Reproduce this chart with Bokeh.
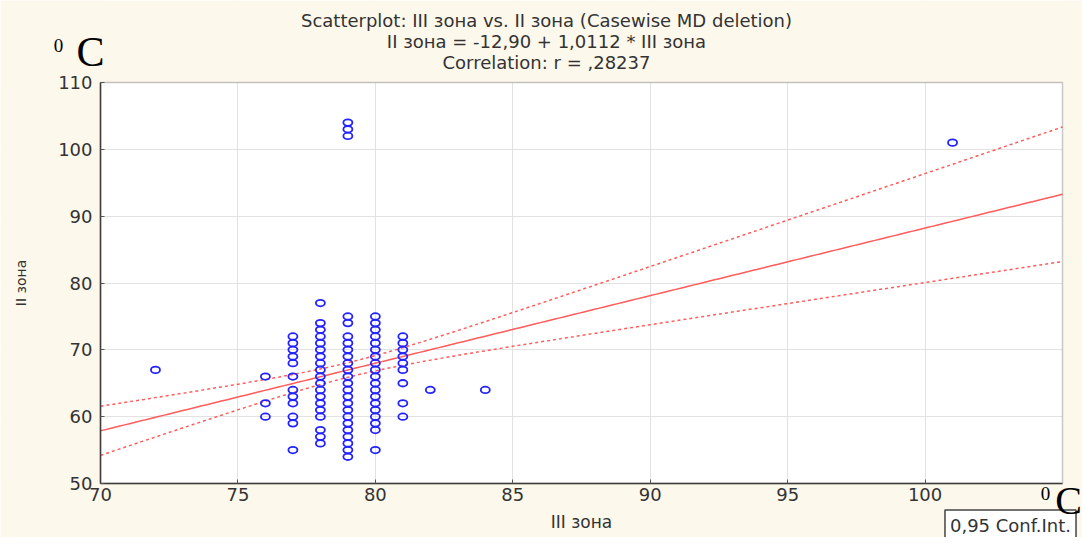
import numpy as np
from bokeh.plotting import figure
from bokeh.models import Label, FixedTicker, Range1d, BoxAnnotation
from bokeh.embed import file_html
from bokeh.resources import INLINE

# ---- data (III зона = x, II зона = y) ----
x72 = [67]
x76 = [66, 62, 60]
x77 = [72, 71, 70, 69, 68, 66, 64, 63, 62, 60, 59, 55]
x78 = [77, 74, 73, 72, 71, 70, 69, 68, 67, 66, 65, 64, 63, 62, 61, 60, 58, 57, 56]
x79 = [104, 103, 102, 75, 74, 72, 71, 70, 69, 68, 67, 66, 65, 64, 63, 62, 61, 60,
       59, 58, 57, 56, 55, 54]
x80 = [75, 74, 73, 72, 71, 70, 69, 68, 67, 66, 65, 64, 63, 62, 61, 60, 59, 58, 55]
x81 = [72, 71, 70, 69, 68, 67, 65, 62, 60]
x82 = [64]
x84 = [64]
x101 = [101]

col_x = [72, 76, 77, 78, 79, 80, 81, 82, 84, 101]
col_y = [x72, x76, x77, x78, x79, x80, x81, x82, x84, x101]

intercept = -12.90
slope = 1.0112
t_value = 1.987
resid_sd = 5.2

x_lo, x_hi = 70, 105
y_lo, y_hi = 50, 110
x_ticks = [70, 75, 80, 85, 90, 95, 100]
y_ticks = [50, 60, 70, 80, 90, 100, 110]

title_lines = ["Scatterplot: III зона vs. II зона (Casewise MD deletion)",
               "II зона = -12,90 + 1,0112 * III зона",
               "Correlation: r = ,28237"]

# ---- layout (canvas pixels) ----
W, H = 1082, 537
PL, PR, PT, PB = 100, 1062, 82, 483      # plot-area box on the canvas

xs = np.concatenate([[cx] * len(cy) for cx, cy in zip(col_x, col_y)]).astype(float)
ys = np.concatenate(col_y).astype(float)

kx = (x_hi - x_lo) / (PR - PL)
ky = (y_hi - y_lo) / (PB - PT)
xr = Range1d(x_lo - PL * kx, x_hi + (W - PR) * kx)
yr = Range1d(y_lo - (H - PB) * ky, y_hi + PT * ky)

CREAM = "#fdf8ec"
FONT = "DejaVu Sans"
p = figure(width=W, height=H, x_range=xr, y_range=yr,
           output_backend="svg", toolbar_location=None,
           min_border=0, min_border_left=0, min_border_right=0,
           min_border_top=0, min_border_bottom=0)
p.background_fill_color = "white"
p.border_fill_color = CREAM
p.outline_line_color = None

p.xaxis.fixed_location = y_lo
p.yaxis.fixed_location = x_lo
p.xaxis.bounds = (x_lo, x_hi)
p.yaxis.bounds = (y_lo, y_hi)

for ax in (p.xaxis[0], p.yaxis[0]):
    ax.axis_line_color = "#333333"
    ax.axis_line_width = 1.5
    ax.major_tick_in = 4
    ax.major_tick_out = 0
    ax.major_tick_line_color = "#555555"
    ax.minor_tick_line_color = None
    ax.major_label_text_font = FONT
    ax.major_label_text_font_size = "18px"
    ax.major_label_text_color = "#333333"
    ax.axis_label_text_font = FONT
    ax.axis_label_text_font_style = "normal"
    ax.axis_label_text_color = "#333333"

p.xaxis.axis_label_text_font_size = "17px"
p.yaxis.axis_label_text_font_size = "14px"
p.xaxis.ticker = FixedTicker(ticks=x_ticks)
p.yaxis.ticker = FixedTicker(ticks=y_ticks)
p.xgrid.ticker = FixedTicker(ticks=x_ticks)
p.ygrid.ticker = FixedTicker(ticks=y_ticks)
p.xgrid.grid_line_color = "#e2e2e2"
p.ygrid.grid_line_color = "#e2e2e2"
p.xaxis.axis_label = "III зона"
p.yaxis.axis_label = "II зона"
p.xaxis.major_label_standoff = 4
p.yaxis.major_label_standoff = 8
p.xaxis.axis_label_standoff = 8
p.yaxis.axis_label_standoff = 26

# cream surround covering the grid outside the plot area
for kw in (dict(right=x_lo), dict(left=x_hi), dict(top=y_lo), dict(bottom=y_hi)):
    p.add_layout(BoxAnnotation(fill_color=CREAM, fill_alpha=1, line_color=None,
                               level="underlay", **kw))

# regression line + 95% confidence band for the mean
xl = np.linspace(x_lo, x_hi, 200)
yl = intercept + slope * xl
n = len(xs)
xbar = xs.mean()
sxx = np.sum((xs - xbar) ** 2)
hw = t_value * resid_sd * np.sqrt(1.0 / n + (xl - xbar) ** 2 / sxx)

RED = "#ff5c5c"
p.line(xl, yl, line_color=RED, line_width=1.5)
p.line(xl, yl + hw, line_color=RED, line_width=1.5, line_dash="3 3")
p.line(xl, yl - hw, line_color=RED, line_width=1.5, line_dash="3 3")

p.ellipse(x=xs, y=ys, width=9, height=6.5, width_units="screen", height_units="screen",
          fill_alpha=0, line_color="#2222ff", line_width=1.8)

# plot-area outline
p.add_layout(BoxAnnotation(left=x_lo, right=x_hi, bottom=y_lo, top=y_hi,
                           fill_alpha=0, line_color="#555555", line_width=1.5))

# texts: screen units from the canvas' lower-left corner
def lab(sx, sy, text, size, font=FONT, color="#333333", **kw):
    p.add_layout(Label(x=sx, y=sy, x_units="screen", y_units="screen", text=text,
                       text_align="center", text_baseline="middle",
                       text_font=font, text_font_size=size, text_color=color, **kw))

for i, t in enumerate(title_lines):
    lab(546, H - 20 - 21 * i, t, "18px")

lab(58, H - 45, "0", "19px", font="Liberation Serif", color="black")
lab(90, H - 51, "C", "42px", font="Liberation Serif", color="black")

lab(1010, H - 525, "0,95 Conf.Int.", "18px", background_fill_color="white",
    border_line_color="#444444", border_line_width=1.5, padding=5)

lab(1045, H - 493, "0", "19px", font="Liberation Serif", color="black")
lab(1068, H - 500, "C", "40px", font="Liberation Serif", color="black")

open("out.html", "w").write(file_html(p, INLINE))
